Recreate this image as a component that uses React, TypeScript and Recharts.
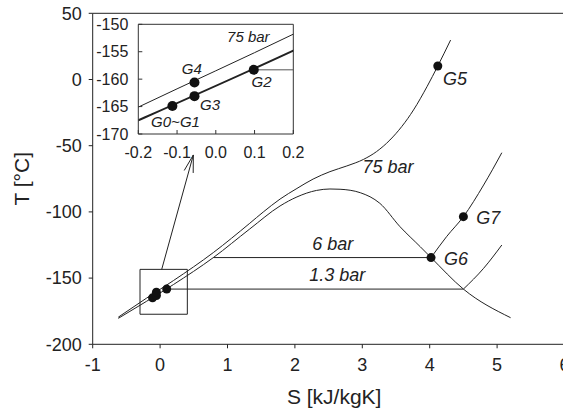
import React from 'react';
import {
  ComposedChart, LineChart, Line, XAxis, YAxis, ReferenceLine, ReferenceArea, ReferenceDot,
} from 'recharts';

// ---- data (S in kJ/kgK, T in °C) ----
const satS = [-0.62, -0.2, 0.2, 0.79, 1.33, 1.78, 2.03, 2.32, 2.52, 2.67, 2.97, 3.26, 3.56, 3.86, 4.02, 4.5, 5.2];
const satT = [-180.4, -167.5, -154.8, -134.5, -112.9, -95.5, -88.7, -83.8, -82.7, -82.9, -85.5, -93.5, -111.2, -126.3, -134.5, -158.3, -179.9];

const bar75S = [-0.62, -0.2, 0.2, 0.79, 1.33, 1.53, 1.78, 2.03, 2.27, 2.52, 2.77, 3.02, 3.21, 3.41, 3.76, 3.96, 4.12, 4.31];
const bar75T = [-179.5, -165.1, -151.8, -130.7, -108.6, -100.1, -90.3, -82.3, -75.2, -69.6, -65.3, -60.3, -54.5, -45.7, -23.0, -5.4, 10.2, 29.8];

const bar6S = [0.79, 4.02];
const bar6T = [-134.5, -134.5];
const bar6VapS = [4.02, 4.25, 4.5, 4.8, 5.07];
const bar6VapT = [-134.5, -118.7, -103.6, -79.7, -55.3];

const bar13S = [0.098, 4.5];
const bar13T = [-158.3, -158.3];
const bar13VapS = [4.5, 4.8, 5.07];
const bar13VapT = [-158.3, -142.6, -125.0];

const stateNames = ['G0~G1', 'G3', 'G4', 'G2', 'G5', 'G6', 'G7'];
const stateS = [-0.112, -0.055, -0.055, 0.098, 4.12, 4.02, 4.5];
const stateT = [-164.9, -163.1, -160.6, -158.3, 10.2, -134.5, -103.6];

const xTicks = [-1, 0, 1, 2, 3, 4, 5, 6];
const yTicks = [-200, -150, -100, -50, 0, 50];
const insetXTicks = [-0.2, -0.1, 0, 0.1, 0.2];
const insetYTicks = [-170, -165, -160, -155, -150];

// annotation anchors (data coordinates)
const mainLabels = [
  { text: '75 bar', s: 3.38, t: -66.1 },
  { text: '6 bar', s: 2.56, t: -124.2 },
  { text: '1.3 bar', s: 2.63, t: -147.7 },
  { text: 'G5', s: 4.375, t: 0.9 },
  { text: 'G6', s: 4.39, t: -135.6 },
  { text: 'G7', s: 4.87, t: -104.2 },
];
const insetLabels = [
  { text: '75 bar', s: 0.084, t: -152.3 },
  { text: 'G4', s: -0.062, t: -158.1 },
  { text: 'G2', s: 0.118, t: -160.5 },
  { text: 'G3', s: -0.015, t: -164.6 },
  { text: 'G0~G1', s: -0.104, t: -167.7 },
];
const zoomBoxS = [-0.298, 0.404];
const zoomBoxT = [-177.3, -143.4];
const arrowS = [0.024, 0.493];
const arrowT = [-143.4, -57.0];

const pts = (S: number[], T: number[]) => S.map((s, i) => ({ s, t: T[i] }));
const sat = pts(satS, satT);
const b75 = pts(bar75S, bar75T);
const b6 = pts(bar6S, bar6T);
const b6v = pts(bar6VapS, bar6VapT);
const b13 = pts(bar13S, bar13T);
const b13v = pts(bar13VapS, bar13VapT);
const states = stateNames.map((n, i) => ({ name: n, s: stateS[i], t: stateT[i] }));
const mainStates = states;
const insetStates = states.slice(0, 4);

const FONT = '"Liberation Sans", Arial, Helvetica, sans-serif';
const INK = '#222';

const ArrowShape = (p: any) => {
  const { x1, y1, x2, y2 } = p;
  const ang = Math.atan2(y2 - y1, x2 - x1);
  const L = 18;
  const h = (15 * Math.PI) / 180;
  const ax = x2 - L * Math.cos(ang - h);
  const ay = y2 - L * Math.sin(ang - h);
  const bx = x2 - L * Math.cos(ang + h);
  const by = y2 - L * Math.sin(ang + h);
  return (
    <g>
      <line x1={x1} y1={y1} x2={x2} y2={y2} stroke={INK} strokeWidth={1} />
      <polyline points={`${ax},${ay} ${x2},${y2} ${bx},${by}`} fill="none" stroke={INK} strokeWidth={1} />
    </g>
  );
};

const XTitle = (props: any) => {
  const vb = props.viewBox;
  return (
    <text x={vb.x + vb.width / 2 + 5.6} y={vb.y + 52.4} textAnchor="middle" dominantBaseline="central"
      fontSize={21} fontFamily={FONT} fill={INK}>S [kJ/kgK]</text>
  );
};
const YTitle = (props: any) => {
  const vb = props.viewBox;
  const cx = vb.x + vb.width - 71;
  const cy = vb.y + vb.height / 2;
  return (
    <text transform={`translate(${cx},${cy}) rotate(-90)`} x={0} y={0} textAnchor="middle" dominantBaseline="central"
      fontSize={21} fontFamily={FONT} fill={INK}>T [°C]</text>
  );
};

export default function App() {
  return (
    <div style={{ position: 'absolute', left: 0, top: 0, width: 563, height: 409, overflow: 'hidden', background: '#fff' }}>
      <div style={{ position: 'absolute', left: 0, top: 0 }}>
        <ComposedChart width={600} height={409} margin={{ top: 13.3, right: 35.5, left: 32.7, bottom: 34.7 }}>
          <XAxis type="number" dataKey="s" domain={[-1, 6]} ticks={xTicks} allowDataOverflow height={30}
            tickSize={4} tickMargin={10} stroke={INK} tick={{ fill: INK, fontSize: 18, fontFamily: FONT }}
            tickLine={{ stroke: INK }} axisLine={{ stroke: INK }} interval={0}
            label={<XTitle />} />
          <YAxis type="number" dataKey="t" domain={[-200, 50]} ticks={yTicks} allowDataOverflow width={60}
            tickSize={4} tickMargin={7} stroke={INK} tick={{ fill: INK, fontSize: 18, fontFamily: FONT }}
            tickLine={{ stroke: INK }} axisLine={{ stroke: INK }} interval={0}
            label={<YTitle />} />
          <ReferenceLine y={50} stroke={INK} strokeWidth={1} />
          <ReferenceArea x1={zoomBoxS[0]} x2={zoomBoxS[1]} y1={zoomBoxT[0]} y2={zoomBoxT[1]}
            fill="none" fillOpacity={0} stroke={INK} strokeWidth={1} />
          <ReferenceLine segment={[{ x: arrowS[0], y: arrowT[0] }, { x: arrowS[1], y: arrowT[1] }]}
            stroke={INK} shape={ArrowShape} />
          <Line data={sat} dataKey="t" type="monotone" stroke={INK} strokeWidth={1} dot={false} activeDot={false} isAnimationActive={false} />
          <Line data={b75} dataKey="t" type="monotone" stroke={INK} strokeWidth={1} dot={false} activeDot={false} isAnimationActive={false} />
          <Line data={b6} dataKey="t" type="linear" stroke={INK} strokeWidth={1} dot={false} activeDot={false} isAnimationActive={false} />
          <Line data={b6v} dataKey="t" type="monotone" stroke={INK} strokeWidth={1} dot={false} activeDot={false} isAnimationActive={false} />
          <Line data={b13} dataKey="t" type="linear" stroke={INK} strokeWidth={1} dot={false} activeDot={false} isAnimationActive={false} />
          <Line data={b13v} dataKey="t" type="monotone" stroke={INK} strokeWidth={1} dot={false} activeDot={false} isAnimationActive={false} />
          <Line data={mainStates} dataKey="t" stroke="none" dot={{ r: 4.5, fill: '#111', stroke: 'none' }} activeDot={false} isAnimationActive={false} />
          {mainLabels.map((a) => (
            <ReferenceDot key={a.text} x={a.s} y={a.t} r={0} fill="none" stroke="none"
              label={{ value: a.text, position: 'center', fill: INK, fontSize: 18, fontStyle: 'italic', fontFamily: FONT }} />
          ))}
        </ComposedChart>
      </div>
      <div style={{ position: 'absolute', left: 0, top: 0, pointerEvents: 'none' }}>
        <LineChart width={563} height={409} margin={{ top: 24.3, right: 269.7, left: 88.3, bottom: 245 }}>
          <XAxis type="number" dataKey="s" domain={[-0.2, 0.2]} ticks={insetXTicks} allowDataOverflow height={30}
            tickSize={-4} tickMargin={16.7} tickFormatter={(v: number) => v.toFixed(1)} interval={0}
            stroke="#333" tick={{ fill: INK, fontSize: 16, fontFamily: FONT }} tickLine={{ stroke: '#333' }} axisLine={{ stroke: '#333' }} />
          <YAxis type="number" dataKey="t" domain={[-170, -150]} ticks={insetYTicks} allowDataOverflow width={50}
            tickSize={-4} tickMargin={14} interval={0}
            stroke="#333" tick={{ fill: INK, fontSize: 16, fontFamily: FONT }} tickLine={{ stroke: '#333' }} axisLine={{ stroke: '#333' }} />
          <ReferenceLine y={-150} stroke="#333" strokeWidth={1} />
          <ReferenceLine x={0.2} stroke="#333" strokeWidth={1} />
          <Line data={b13} dataKey="t" type="linear" stroke="#555" strokeWidth={1} dot={false} activeDot={false} isAnimationActive={false} />
          <Line data={b75} dataKey="t" type="monotone" stroke={INK} strokeWidth={1} dot={false} activeDot={false} isAnimationActive={false} />
          <Line data={sat} dataKey="t" type="monotone" stroke={INK} strokeWidth={2} dot={false} activeDot={false} isAnimationActive={false} />
          <Line data={insetStates} dataKey="t" stroke="none" dot={{ r: 5, fill: '#111', stroke: 'none' }} activeDot={false} isAnimationActive={false} />
          {insetLabels.map((a) => (
            <ReferenceDot key={a.text} x={a.s} y={a.t} r={0} fill="none" stroke="none"
              label={{ value: a.text, position: 'center', fill: INK, fontSize: 15, fontStyle: 'italic', fontFamily: FONT }} />
          ))}
        </LineChart>
      </div>
    </div>
  );
}
